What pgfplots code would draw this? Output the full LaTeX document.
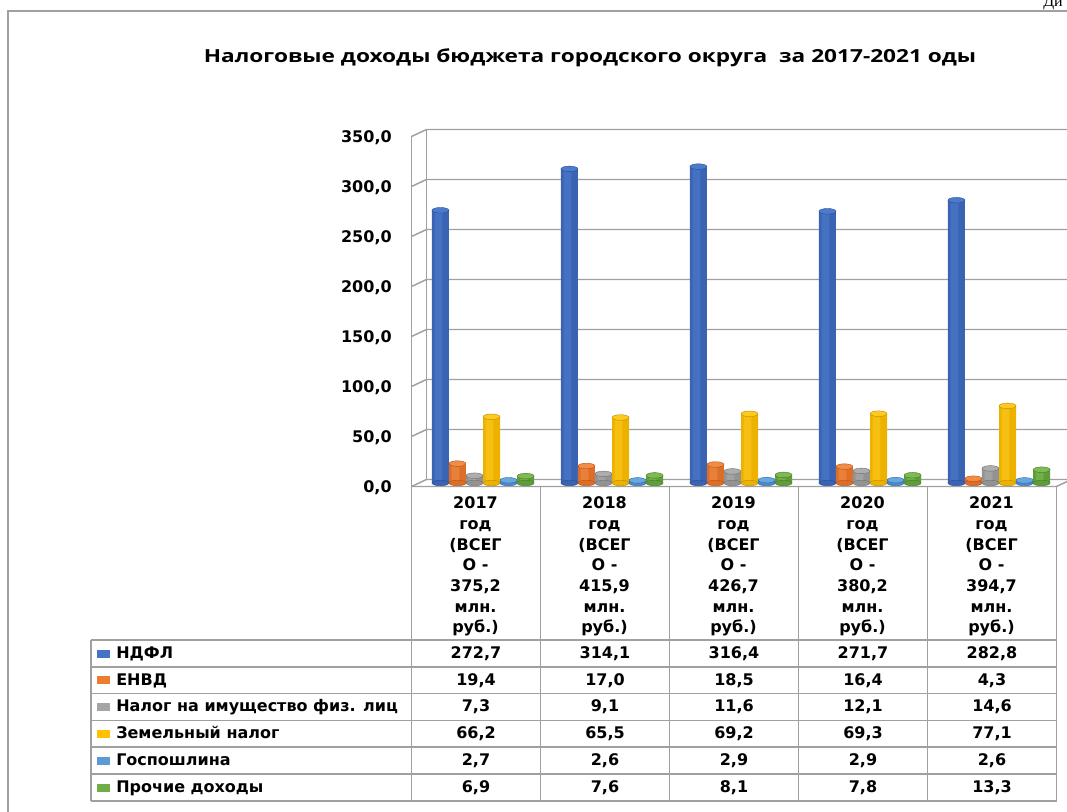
\documentclass[border=0pt]{standalone}
\usepackage{pgfplots}
\usepackage{pgfplotstable}
\pgfplotsset{compat=1.18}
\usepackage{fontspec}
\setmainfont{DejaVu Sans}
\newfontfamily\titlefont{Open Sans}
\newfontfamily\serfont{Liberation Serif}

% colours: base (legend), d = dark edge, m = body, l = highlight
\definecolor{cA}{HTML}{4472C4}\definecolor{cAd}{HTML}{2A4D92}\definecolor{cAm}{HTML}{3A63B3}\definecolor{cAl}{HTML}{4D7BCC}
\definecolor{cB}{HTML}{ED7D31}\definecolor{cBd}{HTML}{B5541A}\definecolor{cBm}{HTML}{DD6E28}\definecolor{cBl}{HTML}{F08C45}
\definecolor{cC}{HTML}{A5A5A5}\definecolor{cCd}{HTML}{707070}\definecolor{cCm}{HTML}{939393}\definecolor{cCl}{HTML}{ADADAD}
\definecolor{cD}{HTML}{FFC000}\definecolor{cDd}{HTML}{B88A00}\definecolor{cDm}{HTML}{EDB200}\definecolor{cDl}{HTML}{FFC91F}
\definecolor{cE}{HTML}{5B9BD5}\definecolor{cEd}{HTML}{2C6AA6}\definecolor{cEm}{HTML}{4B8BC8}\definecolor{cEl}{HTML}{6AA7DE}
\definecolor{cF}{HTML}{70AD47}\definecolor{cFd}{HTML}{487A2A}\definecolor{cFm}{HTML}{5F9C3A}\definecolor{cFl}{HTML}{7DBA52}
\definecolor{wall}{HTML}{A0A0A0}

\pgfdeclareplotmark{cyltop}{%
  \pgfpathellipse{\pgfpointorigin}{\pgfqpoint{6.35pt}{0pt}}{\pgfqpoint{0pt}{2.1pt}}%
  \pgfusepathqfillstroke}

\pgfplotstableread{
x ndfl envd imush zemel gosp proch z
0 272.7 19.4 7.3 66.2 2.7 6.9 0
1 314.1 17.0 9.1 65.5 2.6 7.6 0
2 316.4 18.5 11.6 69.2 2.9 8.1 0
3 271.7 16.4 12.1 69.3 2.9 7.8 0
4 282.8 4.3 14.6 77.1 2.6 13.3 0
}\datatable

\newcommand\tabfont{\fontsize{12}{15.5}\selectfont\bfseries}

% one cylinder series: #1 column, #2 colour letter, #3 shift
\newcommand\cyl[3]{%
  \addplot[only marks, mark=cyltop, mark options={fill=c#2m, draw=c#2d, line width=0.3pt}, x filter/.expression={x+#3}] table[x=x,y=z]{\datatable};
  \addplot[ybar, bar width=0.132, bar shift=#3, fill=c#2m, draw=none] table[x=x,y=#1]{\datatable};
  \addplot[ybar, bar width=0.06, bar shift=#3-0.015, fill=c#2l, fill opacity=0.6, draw=none] table[x=x,y=#1]{\datatable};
  \addplot[only marks, mark=cyltop, mark options={fill=c#2l, draw=c#2d, line width=0.3pt}, x filter/.expression={x+#3}] table[x=x,y=#1]{\datatable};
}

\begin{document}
\begin{tikzpicture}
\useasboundingbox (0,0) rectangle (800.25pt,-609pt);
\clip (0,0) rectangle (800.25pt,-609pt);
\begin{scope}[x=0.75pt,y=-0.75pt]
  \fill[white] (0,0) rectangle (1067,812);
  % outer frame
  \draw[wall, line width=1.2pt] (8,830) -- (8,11) -- (1080,11);
  \node[anchor=base west, inner sep=0pt, font=\serfont\fontsize{12}{14}\selectfont] at (1043,6.5) {Ди};
  % title
  \node[anchor=base, inner sep=0pt, xscale=1.258, font=\titlefont\fontsize{13.5}{16}\selectfont\bfseries] at (590,62.3) {Налоговые доходы бюджета городского округа \ за 2017-2021 оды};
  % 3D walls
  \foreach \v in {0,50,...,350} {
    \draw[wall, line width=1.1pt] (411.5,486.5-\v) -- (426.5,479.5-\v) -- (1080,479.5-\v);
  }
  \draw[wall, line width=1.1pt] (411.5,136.5) -- (411.5,486.5);
  \draw[wall, line width=1.1pt] (426.5,129.5) -- (426.5,479.5);
  \draw[wall, line width=1.1pt] (411.5,486.5) -- (1056.5,486.5) -- (1071.5,479.5);
\end{scope}

\begin{axis}[
  at={(313.875pt,-362.25pt)}, anchor=south west,
  scale only axis, width=483.75pt, height=262.5pt,
  xmin=-0.5, xmax=4.5, ymin=0, ymax=350,
  clip=false,
  axis line style={draw=none},
  major tick length=0pt,
  ytick={0,50,...,350},
  yticklabel style={anchor=base east, inner sep=0pt, xshift=-19.9pt, yshift=-7.4pt, font=\tabfont,
    /pgf/number format/.cd, fixed, fixed zerofill, precision=1, use comma, 1000 sep={}, assume math mode=true},
  xtick={0,...,4},
  xticklabels={{2017\\год\\(ВСЕГ\\О -\\375,2\\млн.\\руб.)},
               {2018\\год\\(ВСЕГ\\О -\\415,9\\млн.\\руб.)},
               {2019\\год\\(ВСЕГ\\О -\\426,7\\млн.\\руб.)},
               {2020\\год\\(ВСЕГ\\О -\\380,2\\млн.\\руб.)},
               {2021\\год\\(ВСЕГ\\О -\\394,7\\млн.\\руб.)}},
  xticklabel style={align=center, anchor=north, inner sep=0pt, xshift=-5.625pt, yshift=-10.3pt, font=\tabfont},
]
\cyl{ndfl}{A}{-0.33}
\cyl{envd}{B}{-0.198}
\cyl{imush}{C}{-0.066}
\cyl{zemel}{D}{0.066}
\cyl{gosp}{E}{0.198}
\cyl{proch}{F}{0.33}
\end{axis}

\begin{scope}[x=0.75pt,y=-0.75pt]
  % table grid
  \foreach \xx in {411.5,540.5,669.5,798.5,927.5,1056.5} {
    \draw[wall, line width=1.1pt] (\xx,486.5) -- (\xx,801);
  }
  \draw[wall, line width=1.1pt] (91,640) -- (91,801);
  \foreach \r in {0,...,6} {
    \draw[wall, line width=1.1pt] (91,640+26.8*\r) -- (1056.5,640+26.8*\r);
  }
  % row labels with legend keys
  \foreach \lab/\col [count=\r from 0] in {НДФЛ/cA, ЕНВД/cB, Налог на имущество физ. лиц/cC, Земельный налог/cD, Госпошлина/cE, Прочие доходы/cF} {
    \fill[\col] (97,649.5+26.8*\r) rectangle ++(13,8);
    \node[anchor=base west, inner sep=0pt, font=\tabfont] at (116,658.3+26.8*\r) {\lab};
  }
  % values
  \foreach \col [count=\r from 0] in {ndfl,envd,imush,zemel,gosp,proch} {
    \foreach \i in {0,...,4} {
      \pgfplotstablegetelem{\i}{\col}\of\datatable
      \node[anchor=base, inner sep=0pt, font=\tabfont] at ({476+129*\i},{658.3+26.8*\r})
        {\pgfmathprintnumber[fixed,fixed zerofill,precision=1,use comma,assume math mode=true]{\pgfplotsretval}};
    }
  }
\end{scope}
\end{tikzpicture}
\end{document}
